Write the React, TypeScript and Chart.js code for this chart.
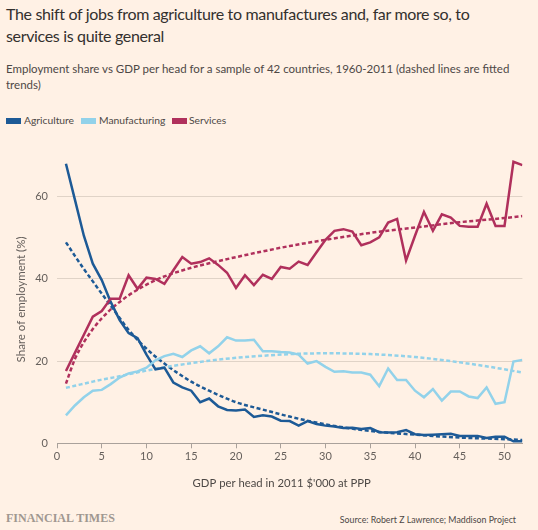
import React, { useEffect, useRef } from "react";
import { Chart, registerables } from "chart.js";
Chart.register(...registerables);

const gdpPerHead = [1,2,3,4,5,6,7,8,9,10,11,12,13,14,15,16,17,18,19,20,21,22,23,24,25,26,27,28,29,30,31,32,33,34,35,36,37,38,39,40,41,42,43,44,45,46,47,48,49,50,51,52];
const agriculture = [68.0,59.3,50.5,43.7,39.7,34.4,30.0,26.8,25.6,21.6,18.0,18.4,14.8,13.6,12.8,10.0,10.9,9.0,8.1,8.0,8.2,6.4,6.8,6.5,5.5,5.4,4.3,5.4,4.7,4.3,4.1,3.7,3.8,3.5,3.7,2.7,2.6,2.7,3.2,2.2,2.0,2.1,2.2,2.3,1.8,1.8,1.8,1.3,1.6,1.6,0.5,0.5];
const manufacturing = [6.8,9.2,11.2,12.8,13.0,14.4,16.0,17.0,17.5,18.4,20.2,21.2,21.8,21.0,22.6,23.6,21.9,23.6,25.8,25.0,25.0,25.2,22.4,22.4,22.2,22.1,21.6,19.4,20.0,18.6,17.4,17.5,17.2,17.2,16.7,13.9,18.2,15.4,15.4,12.8,11.2,13.2,10.4,12.6,12.6,11.4,11.0,13.6,9.6,10.0,19.9,20.3];
const services = [17.6,22.0,26.4,30.8,32.2,35.2,35.2,40.9,37.6,40.3,40.0,38.8,42.1,45.3,43.7,44.1,45.0,43.4,41.5,37.8,40.9,38.5,41.0,40.0,42.9,42.5,44.2,43.4,46.5,49.5,51.7,52.1,51.5,48.2,48.9,50.1,53.7,54.6,44.5,50.5,56.3,51.7,55.7,54.9,52.9,52.7,52.7,58.3,52.9,52.9,68.5,67.7];

const trendGdp = [1,2,3,4,5,6,7,8,10,12,15,17,20,23,26,30,35,40,45,50,52];
const agricultureTrend = [48.9,45.6,42.4,39.4,36.4,33.5,30.5,27.6,23.0,19.4,15.0,12.8,10.0,8.2,6.5,4.6,3.0,2.1,1.4,1.0,0.8];
const manufacturingTrend = [13.5,14.0,14.5,15.0,15.5,15.9,16.3,16.8,17.7,18.5,19.5,20.1,20.8,21.3,21.7,21.9,21.7,21.0,19.7,18.0,17.2];
const servicesTrend = [14.5,20.5,24.6,27.8,30.4,32.6,34.4,36.0,38.6,40.6,42.7,43.8,45.3,46.7,48.0,49.5,51.2,52.5,53.8,54.8,55.3];

const xTicks = [0,5,10,15,20,25,30,35,40,45,50];
const yTicks = [0,20,40,60];

const seriesNames = ["Agriculture", "Manufacturing", "Services"];
const colors = ["#1d5a96", "#92d2ea", "#b0305c"];
const xTitle = "GDP per head in 2011 $'000 at PPP";
const yTitle = "Share of employment (%)";

const BG = "#fff1e5";
const GRID = "#e0d3c7";
const AXIS = "#a9a19b";
const TEXT = "#66605c";
const FONT = "Lato";

export default function App() {
  const ref = useRef<HTMLCanvasElement>(null);
  useEffect(() => {
    document.body.style.margin = "0";
    const mk = (xs: number[], ys: number[]) => xs.map((x, i) => ({ x, y: ys[i] }));
    const solid = (i: number, ys: number[]) => ({
      label: seriesNames[i], data: mk(gdpPerHead, ys), borderColor: colors[i], backgroundColor: colors[i],
      borderWidth: 2.5, pointRadius: 0, fill: false, tension: 0,
    });
    const dashed = (i: number, ys: number[]) => ({
      label: seriesNames[i] + " trend", data: mk(trendGdp, ys), borderColor: colors[i],
      borderWidth: 2.5, borderDash: [4, 2.5], pointRadius: 0, fill: false, cubicInterpolationMode: "monotone" as const,
    });
    const xTitlePlugin = {
      id: "xTitleOffset",
      afterDraw(chart: any) {
        const { ctx, chartArea } = chart;
        ctx.save();
        ctx.font = `11.3px ${FONT}`;
        ctx.fillStyle = "#4d4845";
        ctx.textAlign = "center";
        ctx.textBaseline = "middle";
        ctx.fillText(xTitle, (chartArea.left + chartArea.right) / 2 - 8, chartArea.bottom + 40);
        ctx.restore();
      },
    };
    const chart = new Chart(ref.current!, {
      type: "line",
      data: {
        datasets: [
          solid(2, services), solid(1, manufacturing), solid(0, agriculture),
          dashed(2, servicesTrend), dashed(1, manufacturingTrend), dashed(0, agricultureTrend),
        ] as any,
      },
      plugins: [xTitlePlugin],
      options: {
        responsive: false,
        animation: false,
        layout: { padding: { left: 0, right: 15.6, top: 12.8, bottom: 0 } },
        plugins: { legend: { display: false }, tooltip: { enabled: false } },
        scales: {
          x: {
            type: "linear", min: 0, max: 52,
            afterBuildTicks: (s: any) => { s.ticks = xTicks.map((v) => ({ value: v })); },
            afterFit: (s: any) => { s.height = 56.7; },
            grid: { drawOnChartArea: false, drawTicks: true, tickLength: 5, tickColor: AXIS, color: AXIS },
            border: { display: true, color: AXIS, width: 1 },
            ticks: { color: TEXT, font: { family: FONT, size: 11 }, padding: 2, maxRotation: 0, autoSkip: false },
            title: { display: false },
          },
          y: {
            type: "linear", min: 0, max: 70,
            afterBuildTicks: (s: any) => { s.ticks = yTicks.map((v) => ({ value: v })); },
            afterFit: (s: any) => { s.width = 57; },
            grid: { drawTicks: false, color: (ctx: any) => (ctx.tick && ctx.tick.value === 0 ? "rgba(0,0,0,0)" : GRID), lineWidth: 1 },
            border: { display: false },
            ticks: { color: TEXT, font: { family: FONT, size: 11 }, padding: 9 },
            title: { display: true, text: yTitle, color: TEXT, font: { family: FONT, size: 11.5 }, padding: { top: 14, bottom: 0 } },
          },
        },
      } as any,
    });
    return () => chart.destroy();
  }, []);

  const legendItems = [
    { left: 6, textLeft: 24 },
    { left: 81, textLeft: 99 },
    { left: 172, textLeft: 189 },
  ];

  return (
    <div style={{ position: "fixed", left: 0, top: 0, width: 538, height: 530, background: BG, overflow: "hidden", fontFamily: FONT, color: "#33302e" }}>
      <div style={{ position: "absolute", left: 6, top: 3, width: 480, fontSize: 16, letterSpacing: "-0.34px", lineHeight: "22px" }}>
        The shift of jobs from agriculture to manufactures and, far more so, to services is quite general
      </div>
      <div style={{ position: "absolute", left: 6, top: 61, width: 520, fontSize: 11.5, lineHeight: "16px", color: "#4d4845" }}>
        Employment share vs GDP per head for a sample of 42 countries, 1960-2011 (dashed lines are fitted trends)
      </div>
      {seriesNames.map((n, i) => (
        <React.Fragment key={n}>
          <div style={{ position: "absolute", left: legendItems[i].left, top: 117.5, width: 15, height: 6, background: colors[i] }} />
          <div style={{ position: "absolute", left: legendItems[i].textLeft, top: 113, fontSize: 10.3, lineHeight: "14px", color: "#4d4845" }}>{n}</div>
        </React.Fragment>
      ))}
      <canvas ref={ref} width={538} height={360} style={{ position: "absolute", left: 0, top: 140, width: 538, height: 360 }} />
      <div style={{ position: "absolute", left: 6, top: 511, fontFamily: "Liberation Serif", fontWeight: "bold", fontSize: 12, color: "#a09790" }}>FINANCIAL TIMES</div>
      <div style={{ position: "absolute", right: 22, top: 514, fontSize: 8.8, color: "#4d4845" }}>Source: Robert Z Lawrence; Maddison Project</div>
    </div>
  );
}
